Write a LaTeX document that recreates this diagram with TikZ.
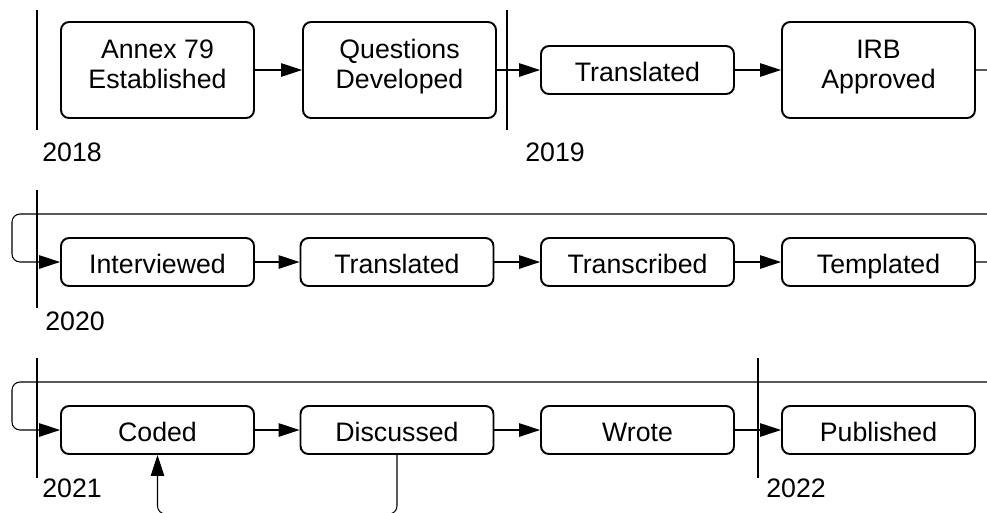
\documentclass[tikz,border=0pt]{standalone}
\usepackage{fontspec}
\setmainfont{Liberation Sans}
\usetikzlibrary{arrows.meta,positioning}
\tikzset{stage/.style={
            draw,
            rounded corners=0.16cm,
            line width=1.1pt,
            minimum width=3.86cm,
            minimum height=0.96cm,
            text height=17pt,
            text depth=3.4pt,
            align=center,
            font=\fontsize{15.2pt}{17.6pt}\selectfont
        },
        tallstage/.style={
            stage,
            minimum height=1.92cm,
            text height=28.6pt,
            text depth=7pt
        },
        yearline/.style={
            line width=0.6pt
        },
        yearlabel/.style={
            anchor=west,
            inner sep=0pt,
            font=\fontsize{15.2pt}{17.6pt}\selectfont
        },
        link/.style={
            line width=0.6pt,
            -{Triangle[length=0.42cm,width=0.27cm]}
        }
    }

\begin{document}
\begin{tikzpicture}[x=0.02cm,y=-0.02cm]
        \clip (0,0) rectangle (987,512);

        % year markers
        \draw[yearline] (37,10) -- (37,130);
        \draw[yearline] (507,10) -- (507,130);
        \draw[yearline] (37,190) -- (37,308);
        \draw[yearline] (37,358) -- (37,478);
        \draw[yearline] (758,358) -- (758,478);
        \node[yearlabel] (y2018) at (42,152) {2018};
        \node[yearlabel] (y2019) at (525,152) {2019};
        \node[yearlabel] (y2020) at (45,321) {2020};
        \node[yearlabel] (y2021) at (42,488) {2021};
        \node[yearlabel] (y2022) at (766,488) {2022};

        \node[tallstage] (annex) at (157.5,70) {Annex 79\\Established};
        \node[tallstage] (questions) at (399.5,70) {Questions\\Developed};
        \node[stage] (translatedA) at (637.5,70) {Translated};
        \node[tallstage] (irb) at (878.5,70) {IRB\\Approved};

        \node[stage] (interviewed) at (157.5,262) {Interviewed};
        \node[stage] (translatedB) at (397,262) {Translated};
        \node[stage] (transcribed) at (637.5,262) {Transcribed};
        \node[stage] (templated) at (878.5,262) {Templated};

        \node[stage] (coded) at (157.5,430) {Coded};
        \node[stage] (discussed) at (397,430) {Discussed};
        \node[stage] (wrote) at (637.5,430) {Wrote};
        \node[stage] (published) at (878.5,430) {Published};

        \draw[link] (annex) -- (questions);
        \draw[link] (questions) -- (translatedA);
        \draw[link] (translatedA) -- (irb);
        \draw[link,rounded corners=0.16cm] (irb.east) -- (1010,70) -- (1010,214) -- (12,214) -- (12,262) -- (interviewed.west);

        \draw[link] (interviewed) -- (translatedB);
        \draw[link] (translatedB) -- (transcribed);
        \draw[link] (transcribed) -- (templated);
        \draw[link,rounded corners=0.16cm] (templated.east) -- (1010,262) -- (1010,382) -- (12,382) -- (12,430) -- (coded.west);

        \draw[link] (coded) -- (discussed);
        \draw[link] (discussed) -- (wrote);
        \draw[link] (wrote) -- (published);
        \draw[link,rounded corners=0.16cm] (discussed.south) -- ++(0,59) -| (coded.south);

    \end{tikzpicture}
\end{document}
